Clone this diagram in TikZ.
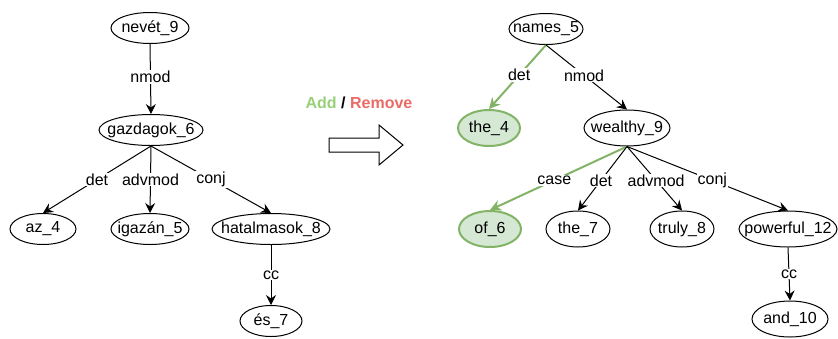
\documentclass[tikz,border=0pt]{standalone}
\usepackage{fontspec}
\setmainfont{Liberation Sans}
\usetikzlibrary{shapes.geometric,arrows.meta}
\definecolor{gstroke}{HTML}{82B366}
\definecolor{gfill}{HTML}{D5E8D4}
\definecolor{addg}{HTML}{97D077}
\definecolor{remr}{HTML}{EA6B66}
\newcommand{\tokbox}[1]{\makebox[0pt]{#1}}
\begin{document}
\begin{tikzpicture}[x=1pt,y=-1pt,
  font=\fontsize{16}{19}\selectfont,
  tok/.style={ellipse,draw=black,line width=1pt,inner sep=0pt,minimum height=31pt},
  rtok/.style={tok,minimum height=36pt},
  gtok/.style={rtok,draw=gstroke,fill=gfill,line width=2pt},
  dep/.style={draw=black,line width=1pt,-{Stealth[length=10pt,width=10pt,inset=3.5pt]}},
  gdep/.style={dep,draw=gstroke,line width=2pt,-{Stealth[length=11pt,width=11pt,inset=3.5pt]}},
  lab/.style={fill=white,inner sep=1pt,text=black}]
\useasboundingbox (0,0) rectangle (838,338);
% left tree
\node[tok,minimum width=78pt] (nevet) at (150,28) {\tokbox{nevét\_9}};
\node[tok,minimum width=104pt] (gaz) at (151,130) {\tokbox{gazdagok\_6}};
\node[tok,minimum width=66pt] (az) at (43,229) {\tokbox{az\_4}};
\node[tok,minimum width=78pt] (igazan) at (150,229) {\tokbox{igazán\_5}};
\node[tok,minimum width=118pt] (hatal) at (271,229) {\tokbox{hatalmasok\_8}};
\node[tok,minimum width=62pt] (es) at (271,321) {\tokbox{és\_7}};
\draw[dep] (nevet.south) -- node[lab,pos=0.47] (l1) {nmod} (gaz.north);
\draw[dep] (gaz.south) -- node[lab,pos=0.5] (l2) {det} (az.north);
\draw[dep] (gaz.south) -- node[lab,pos=0.5] (l3) {advmod} (igazan.north);
\draw[dep] (gaz.south) -- node[lab,pos=0.5] (l4) {conj} (hatal.north);
\draw[dep] (hatal.south) -- node[lab,pos=0.5] (l5) {cc} (es.north);
% middle
\node[font=\bfseries\fontsize{16}{19}\selectfont,inner sep=0pt] (addrem) at (359,103) {\textcolor{addg}{Add} / \textcolor{remr}{Remove}};
\draw[line width=1pt,fill=white] (329,138) -- (379,138) -- (379,125) -- (403,145) -- (379,165) -- (379,152) -- (329,152) -- cycle;
% right tree
\node[tok,minimum width=74pt] (names) at (546,29) {\tokbox{names\_5}};
\node[gtok,minimum width=62pt] (the4) at (489,128) {\tokbox{the\_4}};
\node[rtok,minimum width=86pt] (wealthy) at (627,128) {\tokbox{wealthy\_9}};
\node[gtok,minimum width=62pt] (of6) at (490,229) {\tokbox{of\_6}};
\node[rtok,minimum width=64pt] (the7) at (578,229) {\tokbox{the\_7}};
\node[rtok,minimum width=64pt] (truly) at (682,229) {\tokbox{truly\_8}};
\node[rtok,minimum width=98pt] (powerful) at (788,229) {\tokbox{powerful\_12}};
\node[rtok,minimum width=76pt] (and) at (790,319) {\tokbox{and\_10}};
\draw[gdep] (names.south) -- node[lab,pos=0.47] (r1) {det} (the4.north);
\draw[dep] (names.south) -- node[lab,pos=0.47] (r2) {nmod} (wealthy.north);
\draw[gdep] (wealthy.south) -- node[lab,pos=0.53] (r3) {case} (of6.north);
\draw[dep] (wealthy.south) -- node[lab,pos=0.53] (r4) {det} (the7.north);
\draw[dep] (wealthy.south) -- node[lab,pos=0.53] (r5) {advmod} (truly.north);
\draw[dep] (wealthy.south) -- node[lab,pos=0.53] (r6) {conj} (powerful.north);
\draw[dep] (powerful.south) -- node[lab,pos=0.5] (r7) {cc} (and.north);
\end{tikzpicture}
\end{document}
